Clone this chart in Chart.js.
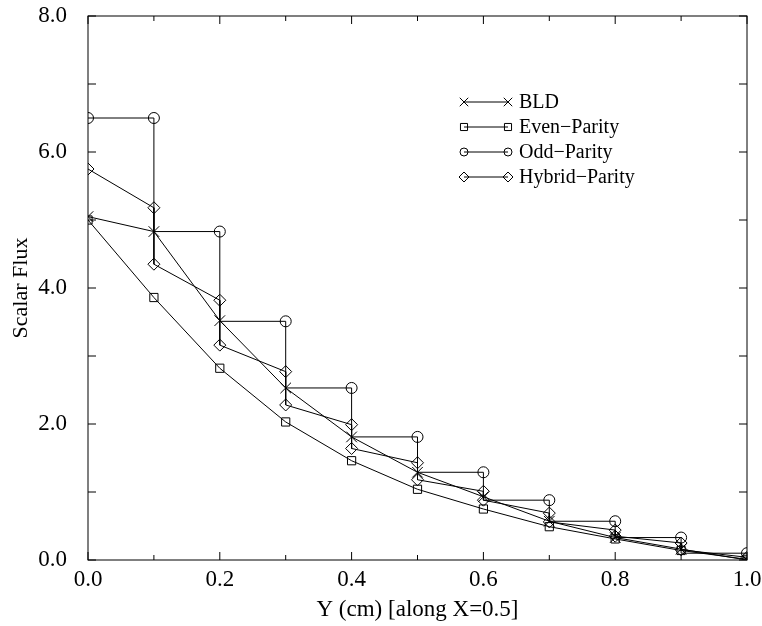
<!DOCTYPE html>
<html><head><meta charset="utf-8">
<script src="https://cdn.jsdelivr.net/npm/chart.js@4/dist/chart.umd.min.js"></script>
<style>html,body{margin:0;padding:0;background:#fff;} #wrap{width:762px;height:626px;position:relative;} canvas{display:block;}</style>
</head><body><div id="wrap"><canvas id="c" width="762" height="626" style="width:762px;height:626px"></canvas></div>
<script>
const xPositions = [0.0,0.1,0.2,0.3,0.4,0.5,0.6,0.7,0.8,0.9,1.0];
const bldFlux    = [5.05,4.83,3.52,2.53,1.81,1.29,0.93,0.57,0.33,0.16,0.00];
const evenFlux   = [5.00,3.86,2.82,2.03,1.46,1.04,0.75,0.49,0.31,0.14,0.01];
const oddFlux    = [6.50,6.50,4.83,3.51,2.53,1.81,1.29,0.88,0.57,0.33,0.10];
const hybridX    = [0.0,0.1,0.1,0.2,0.2,0.3,0.3,0.4,0.4,0.5,0.5,0.6,0.6,0.7,0.7,0.8,0.8,0.9,0.9,1.0];
const hybridFlux = [5.75,5.18,4.35,3.82,3.16,2.77,2.28,1.99,1.64,1.43,1.18,1.01,0.88,0.69,0.56,0.44,0.35,0.25,0.15,0.04];
const seriesNames = ['BLD','Even\u2212Parity','Odd\u2212Parity','Hybrid\u2212Parity'];
const xTickLabels = ['0.0','0.2','0.4','0.6','0.8','1.0'];
const yTickLabels = ['0.0','2.0','4.0','6.0','8.0'];

const pts = (xs, ys) => xs.map((x, i) => ({x: x, y: ys[i]}));
const FONT = "'Liberation Serif','Times New Roman',serif";

const frame = {
  id: 'frame',
  afterDraw(chart) {
    const ctx = chart.ctx, a = chart.chartArea;
    const xs = chart.scales.x, ys = chart.scales.y;
    ctx.save();
    ctx.strokeStyle = '#000';
    ctx.lineWidth = 1;
    ctx.strokeRect(a.left, a.top, a.right - a.left, a.bottom - a.top);
    ctx.beginPath();
    xs.ticks.forEach(t => {
      const px = xs.getPixelForValue(t.value);
      const major = Math.round(t.value * 10) % 2 === 0;
      const len = major ? 8 : 5;
      ctx.moveTo(px, a.bottom); ctx.lineTo(px, a.bottom - len);
      ctx.moveTo(px, a.top); ctx.lineTo(px, a.top + len);
    });
    ys.ticks.forEach(t => {
      const py = ys.getPixelForValue(t.value);
      ctx.moveTo(a.left, py); ctx.lineTo(a.left + 8, py);
      ctx.moveTo(a.right, py); ctx.lineTo(a.right - 8, py);
    });
    ctx.stroke();

    // legend
    const styles = ['crossRot','rect','circle','rectRot'];
    const radii = [6, 5, 4, 5];
    const lx0 = 464, lx1 = 508, tx = 519;
    let ly = 102;
    ctx.font = "20px " + FONT;
    ctx.textBaseline = 'middle';
    styles.forEach((st, i) => {
      ctx.beginPath();
      ctx.moveTo(lx0, ly); ctx.lineTo(lx1, ly);
      ctx.stroke();
      [lx0, lx1].forEach(px => {
        ctx.fillStyle = 'rgba(0,0,0,0)';
        Chart.helpers.drawPoint(ctx, {pointStyle: st, radius: radii[i], rotation: 0, borderWidth: 1}, px, ly);
      });
      ctx.fillStyle = '#000';
      ctx.fillText(seriesNames[i], tx, ly + 1);
      ly += 25;
    });
    ctx.restore();
  }
};

const common = {
  borderColor: '#000', backgroundColor: 'rgba(0,0,0,0)', borderWidth: 1,
  pointBorderColor: '#000', pointBackgroundColor: 'rgba(0,0,0,0)', pointBorderWidth: 1,
  showLine: true, fill: false, tension: 0
};

new Chart(document.getElementById('c'), {
  type: 'scatter',
  data: {
    datasets: [
      Object.assign({}, common, {label: seriesNames[0], data: pts(xPositions, bldFlux), pointStyle: 'crossRot', pointRadius: 7.5}),
      Object.assign({}, common, {label: seriesNames[1], data: pts(xPositions, evenFlux), pointStyle: 'rect', pointRadius: 5.8}),
      Object.assign({}, common, {label: seriesNames[2], data: pts(xPositions, oddFlux), pointStyle: 'circle', pointRadius: 5.5, stepped: 'after'}),
      Object.assign({}, common, {label: seriesNames[3], data: pts(hybridX, hybridFlux), pointStyle: 'rectRot', pointRadius: 6})
    ]
  },
  options: {
    responsive: false,
    maintainAspectRatio: false,
    animation: false,
    devicePixelRatio: 1,
    layout: {padding: {top: 16, right: 15, left: 0, bottom: 0}},
    plugins: {legend: {display: false}, tooltip: {enabled: false}},
    scales: {
      x: {
        type: 'linear', min: 0, max: 1,
        grid: {display: false, drawTicks: false},
        border: {display: false},
        afterFit(s) { s.height = 66; s.paddingLeft = 0; s.paddingRight = 0; },
        ticks: {
          stepSize: 0.1, autoSkip: false, maxRotation: 0, padding: 6,
          color: '#000', font: {family: FONT, size: 23},
          callback(v) { const k = Math.round(v * 10); return k % 2 === 0 ? xTickLabels[k / 2] : ''; }
        },
        title: {display: true, text: 'Y (cm) [along X=0.5]', color: '#000', font: {family: FONT, size: 23}, padding: {top: 0, bottom: 2}}
      },
      y: {
        type: 'linear', min: 0, max: 8,
        grid: {display: false, drawTicks: false},
        border: {display: false},
        afterFit(s) { s.width = 88; s.paddingTop = 0; s.paddingBottom = 0; },
        ticks: {
          stepSize: 1, autoSkip: false, padding: 21,
          color: '#000', font: {family: FONT, size: 23},
          callback(v) { const k = Math.round(v); return k % 2 === 0 ? yTickLabels[k / 2] : ''; }
        },
        title: {display: true, text: 'Scalar Flux', color: '#000', font: {family: FONT, size: 22}, padding: {top: 8, bottom: 0}}
      }
    }
  },
  plugins: [frame]
});
</script>
</body></html>
